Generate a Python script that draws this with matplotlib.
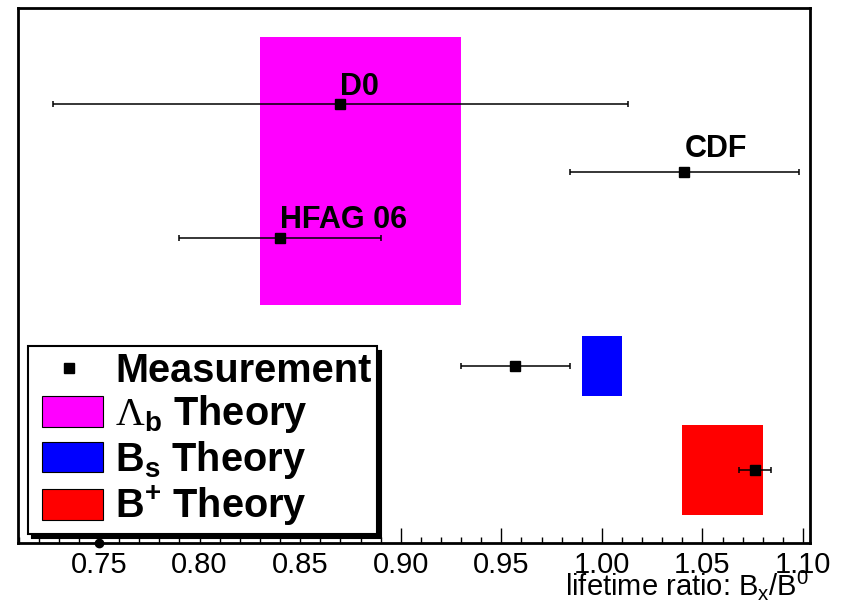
import matplotlib
matplotlib.use('Agg')
from matplotlib import pyplot as plt
from matplotlib.patches import Patch, Rectangle
from matplotlib.lines import Line2D
from matplotlib.legend_handler import HandlerPatch
from matplotlib.ticker import MultipleLocator, FormatStrFormatter

plt.rcParams['font.family'] = ['Liberation Sans', 'DejaVu Sans']
plt.rcParams['mathtext.fontset'] = 'custom'
plt.rcParams['mathtext.rm'] = 'Liberation Sans'
plt.rcParams['mathtext.it'] = 'Liberation Sans:italic'
plt.rcParams['mathtext.bf'] = 'Liberation Sans:bold'
plt.rcParams['mathtext.cal'] = 'Liberation Serif'

# measurements (lifetime ratio)
meas_names = ['D0', 'CDF', 'HFAG 06', '', '']
meas_x = [0.870, 1.041, 0.840, 0.957, 1.076]
meas_err = [0.143, 0.057, 0.050, 0.027, 0.008]
meas_y = [6.56, 5.55, 4.56, 2.65, 1.09]
label_y = [6.70, 5.77, 4.71]

# theory bands
theory_names = ['Lb', 'Bs', 'B+']
theory_lo = [0.830, 0.990, 1.040]
theory_hi = [0.930, 1.010, 1.080]
theory_bot = [3.56, 2.20, 0.42]
theory_top = [7.57, 3.10, 1.76]
theory_col = ['#ff00ff', '#0000ff', '#ff0000']

fig = plt.figure(figsize=(8.45, 6.1), dpi=100)
ax = fig.add_axes([18/845, 67/610, 792/845, 535/610])

for i in range(3):
    ax.bar(theory_lo[i], theory_top[i]-theory_bot[i], width=theory_hi[i]-theory_lo[i],
           bottom=theory_bot[i], align='edge', color=theory_col[i], linewidth=0, zorder=1)

ax.errorbar(meas_x, meas_y, xerr=meas_err, fmt='s', color='black', ms=7.5,
            elinewidth=1.1, capsize=2.5, capthick=1.1, zorder=3)

for i in range(3):
    ax.text(meas_x[i], label_y[i], meas_names[i], fontsize=22, fontweight='bold',
            ha='left', va='baseline', zorder=4)

ax.plot([0.75], [0], 'o', color='black', ms=6, clip_on=False, zorder=5)

ax.set_xlim(0.7097, 1.1035)
ax.set_ylim(0, 8)
ax.set_yticks([])
ax.xaxis.set_major_locator(MultipleLocator(0.05))
ax.xaxis.set_minor_locator(MultipleLocator(0.01))
ax.xaxis.set_major_formatter(FormatStrFormatter('%.2f'))
ax.tick_params(axis='x', which='major', direction='in', length=11, width=1, labelsize=21, pad=6)
ax.tick_params(axis='x', which='minor', direction='in', length=4.5, width=1)
for s in ax.spines.values():
    s.set_linewidth(2)

ax.set_xlabel('lifetime ratio: B$_{\\mathregular{x}}$/B$^{\\mathregular{0}}$', fontsize=21, ha='right')
ax.xaxis.set_label_coords(1.0 - 1/792, -0.047)

# legend patch shifted right inside its handle box
def box_handle(legend, orig_handle, xdescent, ydescent, width, height, fontsize):
    off = 5.8
    return Rectangle((-xdescent + off, -ydescent), width - off, height)

handles = [Line2D([], [], marker='s', color='black', ls='none', ms=7.5),
           Patch(facecolor=theory_col[0], edgecolor='black', linewidth=0.8),
           Patch(facecolor=theory_col[1], edgecolor='black', linewidth=0.8),
           Patch(facecolor=theory_col[2], edgecolor='black', linewidth=0.8)]
labels = ['Measurement',
          '$\\mathcal{\\Lambda}_{\\mathbf{b}}$ Theory',
          'B$_{\\mathbf{s}}$ Theory',
          'B$^{\\mathbf{+}}$ Theory']
leg = ax.legend(handles, labels, loc='lower left', bbox_to_anchor=(10/792, 9/535),
                borderaxespad=0, prop={'weight': 'bold', 'size': 28.6},
                handlelength=1.74, handleheight=0.81, handletextpad=0.3,
                borderpad=0.15, labelspacing=0.08, fancybox=False, framealpha=1,
                edgecolor='black', shadow={'ox': 3, 'oy': -3, 'color': 'black', 'alpha': 1},
                handler_map={Patch: HandlerPatch(patch_func=box_handle)})
leg.get_frame().set_linewidth(1.5)

fig.savefig('out.png', dpi=100)
